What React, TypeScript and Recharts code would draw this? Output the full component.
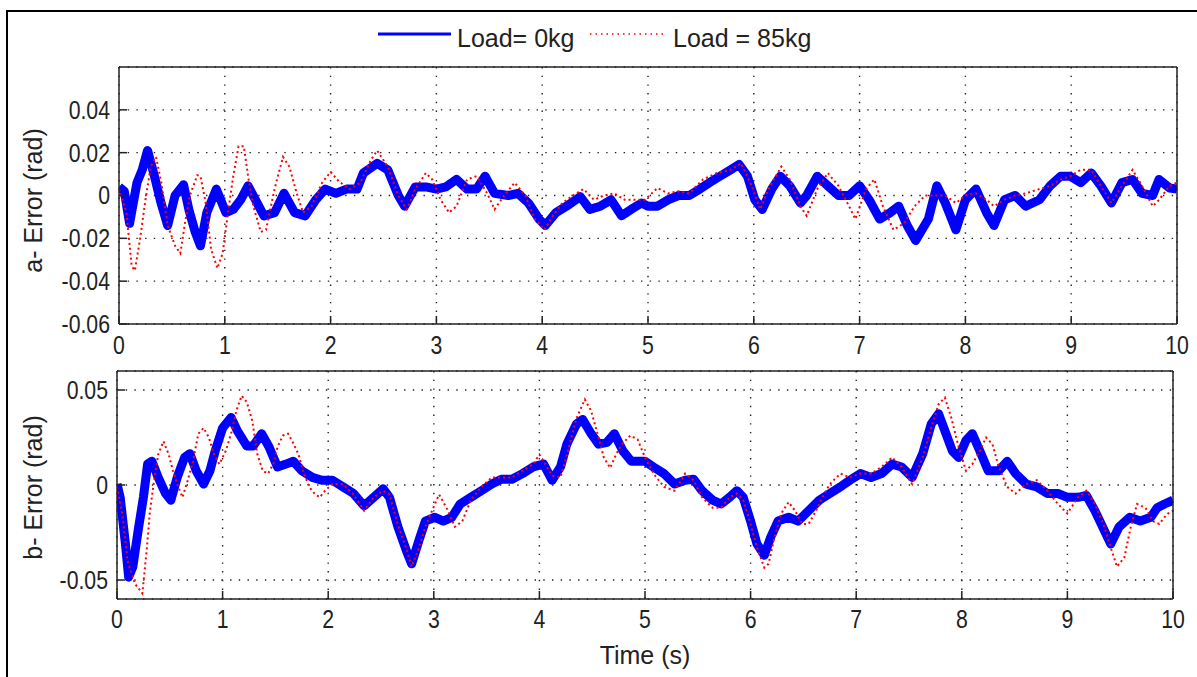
import { CartesianGrid, Line, LineChart, XAxis, YAxis } from "recharts";

// time axis and tick values
const timeTicks = [0, 1, 2, 3, 4, 5, 6, 7, 8, 9, 10];
const topErrorTicks = [-0.06, -0.04, -0.02, 0, 0.02, 0.04];
const bottomErrorTicks = [-0.05, 0, 0.05];

// a- panel, Load = 0kg
const topNoLoadTime = [
  0, 0.05, 0.1, 0.17, 0.22, 0.27, 0.33, 0.4, 0.46, 0.53, 0.61, 0.66, 0.72, 0.77, 0.83, 0.92, 1.01, 1.08,
  1.15, 1.22, 1.3, 1.37, 1.47, 1.56, 1.66, 1.76, 1.86, 1.95, 2.05, 2.15, 2.25, 2.31, 2.44, 2.54, 2.64,
  2.7, 2.8, 2.9, 3, 3.09, 3.19, 3.29, 3.38, 3.46, 3.55, 3.68, 3.77, 3.87, 3.97, 4.03, 4.13, 4.23, 4.36,
  4.45, 4.55, 4.65, 4.75, 4.84, 4.94, 5, 5.09, 5.19, 5.29, 5.39, 5.49, 5.58, 5.68, 5.78, 5.86, 5.94,
  6.01, 6.08, 6.17, 6.25, 6.34, 6.44, 6.5, 6.6, 6.7, 6.8, 6.9, 7, 7.09, 7.19, 7.29, 7.37, 7.45, 7.53,
  7.65, 7.73, 7.81, 7.91, 8, 8.1, 8.2, 8.27, 8.37, 8.47, 8.57, 8.7, 8.8, 8.9, 8.99, 9.09, 9.19, 9.28,
  9.38, 9.48, 9.58, 9.67, 9.77, 9.83, 9.93, 10,
];
const topNoLoadError = [
  0.004, 0.002, -0.013, 0.006, 0.012, 0.021, 0.01, -0.004, -0.014, 0, 0.005, -0.0065, -0.017, -0.0235,
  -0.008, 0.003, -0.008, -0.0065, -0.002, 0.0045, -0.003, -0.0095, -0.008, 0.001, -0.008, -0.0095,
  -0.002, 0.003, 0.001, 0.003, 0.003, 0.0105, 0.015, 0.012, 0, -0.005, 0.004, 0.004, 0.003, 0.004,
  0.0075, 0.003, 0.003, 0.009, 0.001, 0, 0.001, -0.0035, -0.011, -0.014, -0.008, -0.005, -0.0005,
  -0.0065, -0.005, -0.002, -0.0095, -0.0065, -0.0035, -0.005, -0.005, -0.002, 0, 0, 0.003, 0.006,
  0.009, 0.012, 0.0145, 0.009, -0.002, -0.0065, 0.003, 0.009, 0.0045, -0.0035, 0, 0.009, 0.0045, 0, 0,
  0.0045, -0.002, -0.011, -0.008, -0.005, -0.014, -0.021, -0.011, 0.0045, -0.0035, -0.016, -0.002,
  0.003, -0.008, -0.014, -0.002, 0, -0.005, -0.002, 0.0045, 0.009, 0.009, 0.006, 0.0105, 0.0045,
  -0.0035, 0.006, 0.0075, 0.001, 0, 0.0075, 0.0035, 0.003,
];

// a- panel, Load = 85kg
const topLoadTime = [
  0, 0.07, 0.12, 0.15, 0.2, 0.25, 0.3, 0.35, 0.4, 0.46, 0.53, 0.58, 0.62, 0.67, 0.74, 0.77, 0.82, 0.87,
  0.93, 0.98, 1.03, 1.08, 1.13, 1.18, 1.22, 1.27, 1.34, 1.39, 1.47, 1.55, 1.61, 1.68, 1.74, 1.82, 1.92,
  2, 2.08, 2.18, 2.28, 2.38, 2.44, 2.54, 2.64, 2.72, 2.8, 2.9, 2.96, 3.04, 3.12, 3.19, 3.29, 3.38, 3.48,
  3.55, 3.64, 3.74, 3.84, 3.93, 4.02, 4.1, 4.19, 4.29, 4.39, 4.49, 4.58, 4.68, 4.78, 4.87, 4.97, 5.09,
  5.19, 5.29, 5.39, 5.52, 5.65, 5.78, 5.88, 5.98, 6.06, 6.14, 6.26, 6.34, 6.44, 6.5, 6.6, 6.7, 6.8, 6.9,
  6.96, 7.06, 7.14, 7.22, 7.32, 7.42, 7.52, 7.62, 7.71, 7.81, 7.91, 8, 8.1, 8.2, 8.27, 8.37, 8.47, 8.57,
  8.7, 8.8, 8.9, 8.99, 9.09, 9.19, 9.28, 9.38, 9.48, 9.58, 9.67, 9.77, 9.83, 9.93, 10,
];
const topLoadError = [
  0.003, -0.008, -0.033, -0.035, -0.02, -0.002, 0.0135, 0.018, 0.006, -0.014, -0.0235, -0.027, -0.014,
  0, 0.0095, 0.009, -0.0035, -0.025, -0.034, -0.027, -0.008, 0.009, 0.023, 0.023, 0.009, -0.005, -0.017,
  -0.016, 0.003, 0.018, 0.0135, 0.001, -0.008, -0.005, 0.006, 0.011, 0.0065, 0.003, 0.006, 0.0165,
  0.021, 0.0135, 0, -0.0065, 0.003, 0.0105, 0.0075, -0.002, -0.008, -0.005, 0.0075, 0.009, 0.001,
  -0.0065, 0, 0.006, 0, -0.011, -0.016, -0.0095, -0.0035, 0, 0.003, -0.002, 0, 0.001, -0.002, -0.002,
  -0.002, 0.0035, 0.001, 0.002, 0.001, 0.0075, 0.0105, 0.012, 0.015, 0.0045, -0.0065, 0.003, 0.0135,
  0.0075, -0.005, -0.0095, 0.003, 0.0105, 0.0045, -0.005, -0.011, 0.003, 0.0075, -0.005, -0.016, -0.013,
  -0.005, 0, 0, 0, -0.0035, 0, 0.001, -0.002, -0.005, -0.002, 0, 0.001, 0.003, 0.0045, 0.0075, 0.009,
  0.012, 0.012, 0.0045, -0.0035, 0.0045, 0.012, 0.0045, -0.005, -0.002, 0.0045, 0.006,
];

// b- panel, Load = 0kg
const bottomNoLoadTime = [
  0, 0.03, 0.08, 0.11, 0.15, 0.2, 0.25, 0.29, 0.33, 0.39, 0.46, 0.51, 0.57, 0.64, 0.69, 0.75, 0.82, 0.88,
  0.93, 1, 1.08, 1.14, 1.23, 1.29, 1.37, 1.44, 1.52, 1.6, 1.67, 1.75, 1.85, 1.94, 2.04, 2.14, 2.24, 2.34,
  2.43, 2.52, 2.58, 2.66, 2.75, 2.79, 2.86, 2.92, 3.01, 3.09, 3.17, 3.25, 3.35, 3.45, 3.55, 3.64, 3.74,
  3.84, 3.94, 4.04, 4.12, 4.2, 4.26, 4.35, 4.41, 4.49, 4.56, 4.64, 4.71, 4.79, 4.87, 4.95, 5, 5.08, 5.18,
  5.28, 5.38, 5.46, 5.54, 5.64, 5.72, 5.8, 5.87, 5.93, 6, 6.06, 6.13, 6.19, 6.26, 6.36, 6.45, 6.55, 6.65,
  6.75, 6.85, 6.94, 7.04, 7.14, 7.24, 7.34, 7.43, 7.53, 7.63, 7.71, 7.78, 7.84, 7.91, 7.97, 8.04, 8.1,
  8.17, 8.25, 8.35, 8.43, 8.51, 8.61, 8.71, 8.81, 8.91, 9, 9.1, 9.18, 9.26, 9.35, 9.41, 9.49, 9.59, 9.69,
  9.79, 9.85, 9.92, 10,
];
const bottomNoLoadError = [
  0.0005, -0.0065, -0.031, -0.0485, -0.043, -0.024, -0.0065, 0.011, 0.0125, 0.004, -0.0045, -0.008,
  0.004, 0.0145, 0.0165, 0.0075, 0.0005, 0.0075, 0.018, 0.03, 0.0355, 0.0285, 0.0205, 0.0205, 0.027,
  0.02, 0.0095, 0.011, 0.0125, 0.0075, 0.004, 0.0025, 0.0025, -0.001, -0.0045, -0.011, -0.0065, -0.002,
  -0.0065, -0.022, -0.036, -0.0415, -0.029, -0.019, -0.017, -0.019, -0.017, -0.01, -0.0065, -0.003,
  0.0005, 0.003, 0.003, 0.006, 0.0095, 0.011, 0.0025, 0.0095, 0.0215, 0.032, 0.0345, 0.027, 0.0215,
  0.0225, 0.027, 0.018, 0.0125, 0.0125, 0.0125, 0.0095, 0.006, 0.0005, 0.0025, 0.003, -0.003, -0.008,
  -0.01, -0.0065, -0.003, -0.0065, -0.019, -0.031, -0.037, -0.0275, -0.019, -0.017, -0.019, -0.0135,
  -0.008, -0.0045, -0.001, 0.0025, 0.006, 0.004, 0.006, 0.011, 0.0095, 0.004, 0.0165, 0.032, 0.0375,
  0.0285, 0.018, 0.0145, 0.0235, 0.027, 0.018, 0.0075, 0.0075, 0.0125, 0.006, 0.0005, -0.001, -0.0045,
  -0.0045, -0.0065, -0.0065, -0.0055, -0.0135, -0.024, -0.031, -0.022, -0.017, -0.019, -0.017, -0.012,
  -0.01, -0.008,
];

// b- panel, Load = 85kg
const bottomLoadTime = [
  0, 0.05, 0.1, 0.17, 0.24, 0.28, 0.31, 0.35, 0.39, 0.44, 0.49, 0.53, 0.58, 0.62, 0.67, 0.72, 0.77, 0.82,
  0.87, 0.92, 0.97, 1.03, 1.08, 1.13, 1.18, 1.23, 1.28, 1.33, 1.38, 1.43, 1.48, 1.52, 1.57, 1.62, 1.66,
  1.72, 1.77, 1.82, 1.87, 1.92, 1.97, 2.04, 2.14, 2.24, 2.34, 2.43, 2.52, 2.58, 2.66, 2.75, 2.79, 2.86,
  2.92, 3.01, 3.05, 3.12, 3.2, 3.27, 3.35, 3.45, 3.55, 3.64, 3.74, 3.84, 3.94, 4, 4.04, 4.12, 4.2, 4.26,
  4.35, 4.43, 4.49, 4.56, 4.61, 4.67, 4.73, 4.79, 4.86, 4.93, 5, 5.08, 5.18, 5.28, 5.38, 5.46, 5.54,
  5.64, 5.72, 5.8, 5.87, 5.93, 6, 6.06, 6.13, 6.17, 6.22, 6.29, 6.36, 6.42, 6.49, 6.55, 6.62, 6.68, 6.75,
  6.85, 6.94, 7.04, 7.14, 7.24, 7.34, 7.43, 7.53, 7.63, 7.71, 7.78, 7.84, 7.9, 7.97, 8.04, 8.1, 8.17,
  8.23, 8.29, 8.35, 8.43, 8.51, 8.61, 8.71, 8.81, 8.91, 9, 9.1, 9.18, 9.26, 9.35, 9.41, 9.47, 9.54, 9.6,
  9.66, 9.74, 9.81, 9.87, 9.94, 10,
];
const bottomLoadError = [
  -0.001, -0.015, -0.04, -0.052, -0.057, -0.035, -0.015, 0.002, 0.016, 0.023, 0.016, 0.0075, -0.001,
  -0.0065, 0.0025, 0.0125, 0.027, 0.03, 0.025, 0.016, 0.011, 0.018, 0.027, 0.039, 0.047, 0.0435, 0.034,
  0.016, 0.0075, 0.006, 0.011, 0.02, 0.026, 0.027, 0.023, 0.016, 0.006, -0.001, -0.0045, -0.0065,
  -0.003, 0.0005, 0.0005, -0.005, -0.0135, -0.0065, -0.003, -0.005, -0.021, -0.035, -0.043, -0.033,
  -0.022, -0.01, -0.005, -0.012, -0.022, -0.019, -0.008, -0.001, 0.004, 0.004, 0.004, 0.0075, 0.011,
  0.016, 0.0125, 0.005, 0.004, 0.016, 0.035, 0.045, 0.039, 0.025, 0.0145, 0.009, 0.0165, 0.022, 0.026,
  0.024, 0.0145, 0.006, -0.001, -0.003, 0.006, 0.0025, -0.0065, -0.012, -0.012, -0.0065, -0.0045,
  -0.008, -0.0205, -0.033, -0.0435, -0.0415, -0.029, -0.015, -0.009, -0.0135, -0.0205, -0.0205, -0.0135,
  -0.0065, 0.0005, 0.006, 0.004, 0.006, 0.006, 0.0095, 0.0145, 0.0095, 0.0005, 0.0145, 0.03, 0.0425,
  0.046, 0.0355, 0.02, 0.0075, 0.011, 0.018, 0.025, 0.0215, 0.0095, -0.001, -0.0045, 0.0005, 0.0025,
  -0.003, -0.01, -0.015, -0.0065, -0.003, -0.01, -0.022, -0.033, -0.043, -0.038, -0.022, -0.01, -0.012,
  -0.019, -0.0205, -0.0155, -0.0135,
];

type Point = { t: number; e: number };

function zip(time: number[], error: number[]): Point[] {
  return time.map((t, i) => ({ t, e: error[i] }));
}

const ink = "#222";
const textFont = '"Liberation Sans", Arial, sans-serif';
const axisStroke = { stroke: ink, strokeWidth: 1.5 };

function formatError(value: number): string {
  return value === 0 ? "0" : String(value);
}

// MATLAB's tick digits are tall and narrow, so squeeze the text horizontally
function NarrowTick(props: any) {
  const { x, y, payload, textAnchor, dy } = props;
  return (
    <text
      transform={`translate(${x},${y}) scale(0.85,1)`}
      textAnchor={textAnchor}
      dy={dy}
      fontFamily={textFont}
      fontSize={25}
      fill={ink}
    >
      {formatError(payload.value)}
    </text>
  );
}

function ErrorPanel({
  top,
  height,
  margin,
  yTicks,
  xTickMargin,
  noLoad,
  load,
}: {
  top: number;
  height: number;
  margin: { top: number; right: number; bottom: number; left: number };
  yTicks: number[];
  xTickMargin: number;
  noLoad: Point[];
  load: Point[];
}) {
  return (
    <div style={{ position: "absolute", left: 0, top }}>
      <LineChart width={1197} height={height} margin={margin}>
        <CartesianGrid stroke={ink} strokeWidth={1.4} strokeDasharray="1.4 7.3" />
        <XAxis
          dataKey="t"
          type="number"
          domain={[0, 10]}
          ticks={timeTicks}
          allowDataOverflow
          height={40}
          axisLine={axisStroke}
          tickLine={axisStroke}
          tickSize={-8}
          tickMargin={xTickMargin}
          tick={(p: any) => <NarrowTick {...p} dy="0.71em" />}
          interval={0}
        />
        <XAxis
          xAxisId="top"
          orientation="top"
          type="number"
          domain={[0, 10]}
          ticks={timeTicks}
          allowDataOverflow
          height={1}
          axisLine={axisStroke}
          tickLine={axisStroke}
          tickSize={-8}
          tick={false}
          interval={0}
        />
        <YAxis
          type="number"
          domain={[-0.06, 0.06]}
          ticks={yTicks}
          allowDataOverflow
          width={60}
          axisLine={axisStroke}
          tickLine={axisStroke}
          tickSize={-8}
          tickMargin={17}
          tick={(p: any) => <NarrowTick {...p} dy="0.355em" />}
          interval={0}
        />
        <YAxis
          yAxisId="right"
          orientation="right"
          type="number"
          domain={[-0.06, 0.06]}
          ticks={yTicks}
          allowDataOverflow
          width={1}
          axisLine={axisStroke}
          tickLine={axisStroke}
          tickSize={-8}
          tick={false}
          interval={0}
        />
        <Line
          data={noLoad}
          dataKey="e"
          type="linear"
          stroke="#0000FF"
          strokeWidth={9}
          strokeLinejoin="round"
          dot={false}
          activeDot={false}
          isAnimationActive={false}
        />
        <Line
          data={load}
          dataKey="e"
          type="linear"
          stroke="#FF0000"
          strokeWidth={2}
          strokeDasharray="2 3"
          dot={false}
          activeDot={false}
          isAnimationActive={false}
        />
      </LineChart>
    </div>
  );
}

function AxisTitle({ text, centerY }: { text: string; centerY: number }) {
  return (
    <div
      style={{
        position: "absolute",
        left: 33 - 150,
        top: centerY - 12.5,
        width: 300,
        height: 25,
        lineHeight: "25px",
        textAlign: "center",
        fontFamily: textFont,
        fontSize: 25,
        color: ink,
        transform: "rotate(-90deg)",
        whiteSpace: "nowrap",
      }}
    >
      {text}
    </div>
  );
}

export default function App() {
  const topNoLoad = zip(topNoLoadTime, topNoLoadError);
  const topLoad = zip(topLoadTime, topLoadError);
  const bottomNoLoad = zip(bottomNoLoadTime, bottomNoLoadError);
  const bottomLoad = zip(bottomLoadTime, bottomLoadError);

  return (
    <div
      style={{
        position: "absolute",
        left: 0,
        top: 0,
        width: 1197,
        height: 677,
        overflow: "hidden",
        background: "#fff",
      }}
    >
      <div
        style={{
          position: "absolute",
          left: 6,
          top: 10,
          width: 1300,
          height: 800,
          borderLeft: "2px solid #000",
          borderTop: "2px solid #000",
        }}
      />

      {/* legend */}
      <div
        style={{
          position: "absolute",
          left: 378,
          top: 26,
          height: 25,
          lineHeight: "25px",
          fontFamily: textFont,
          fontSize: 25,
          color: ink,
          whiteSpace: "nowrap",
        }}
      >
        <svg width={73} height={25} style={{ position: "absolute", left: 0, top: 0 }}>
          <line x1={0} x2={73} y1={8} y2={8} stroke="#0000FF" strokeWidth={3} />
        </svg>
        <span style={{ position: "absolute", left: 79, top: 0 }}>Load= 0kg</span>
        <svg width={73} height={25} style={{ position: "absolute", left: 212, top: 0 }}>
          <line x1={0} x2={73} y1={8} y2={8} stroke="#FF0000" strokeWidth={1.5} strokeDasharray="1.5 4" />
        </svg>
        <span style={{ position: "absolute", left: 295, top: 0 }}>Load = 85kg</span>
      </div>

      <ErrorPanel
        top={0}
        height={380}
        margin={{ top: 66, right: 19, bottom: 16, left: 59 }}
        yTicks={topErrorTicks}
        xTickMargin={20}
        noLoad={topNoLoad}
        load={topLoad}
      />
      <ErrorPanel
        top={340}
        height={337}
        margin={{ top: 30, right: 23, bottom: 38, left: 57 }}
        yTicks={bottomErrorTicks}
        xTickMargin={19}
        noLoad={bottomNoLoad}
        load={bottomLoad}
      />

      <AxisTitle text="a- Error (rad)" centerY={200} />
      <AxisTitle text="b- Error (rad)" centerY={487} />

      <div
        style={{
          position: "absolute",
          left: 545,
          top: 643,
          width: 200,
          lineHeight: "25px",
          textAlign: "center",
          fontFamily: textFont,
          fontSize: 25,
          color: ink,
        }}
      >
        Time (s)
      </div>
    </div>
  );
}
